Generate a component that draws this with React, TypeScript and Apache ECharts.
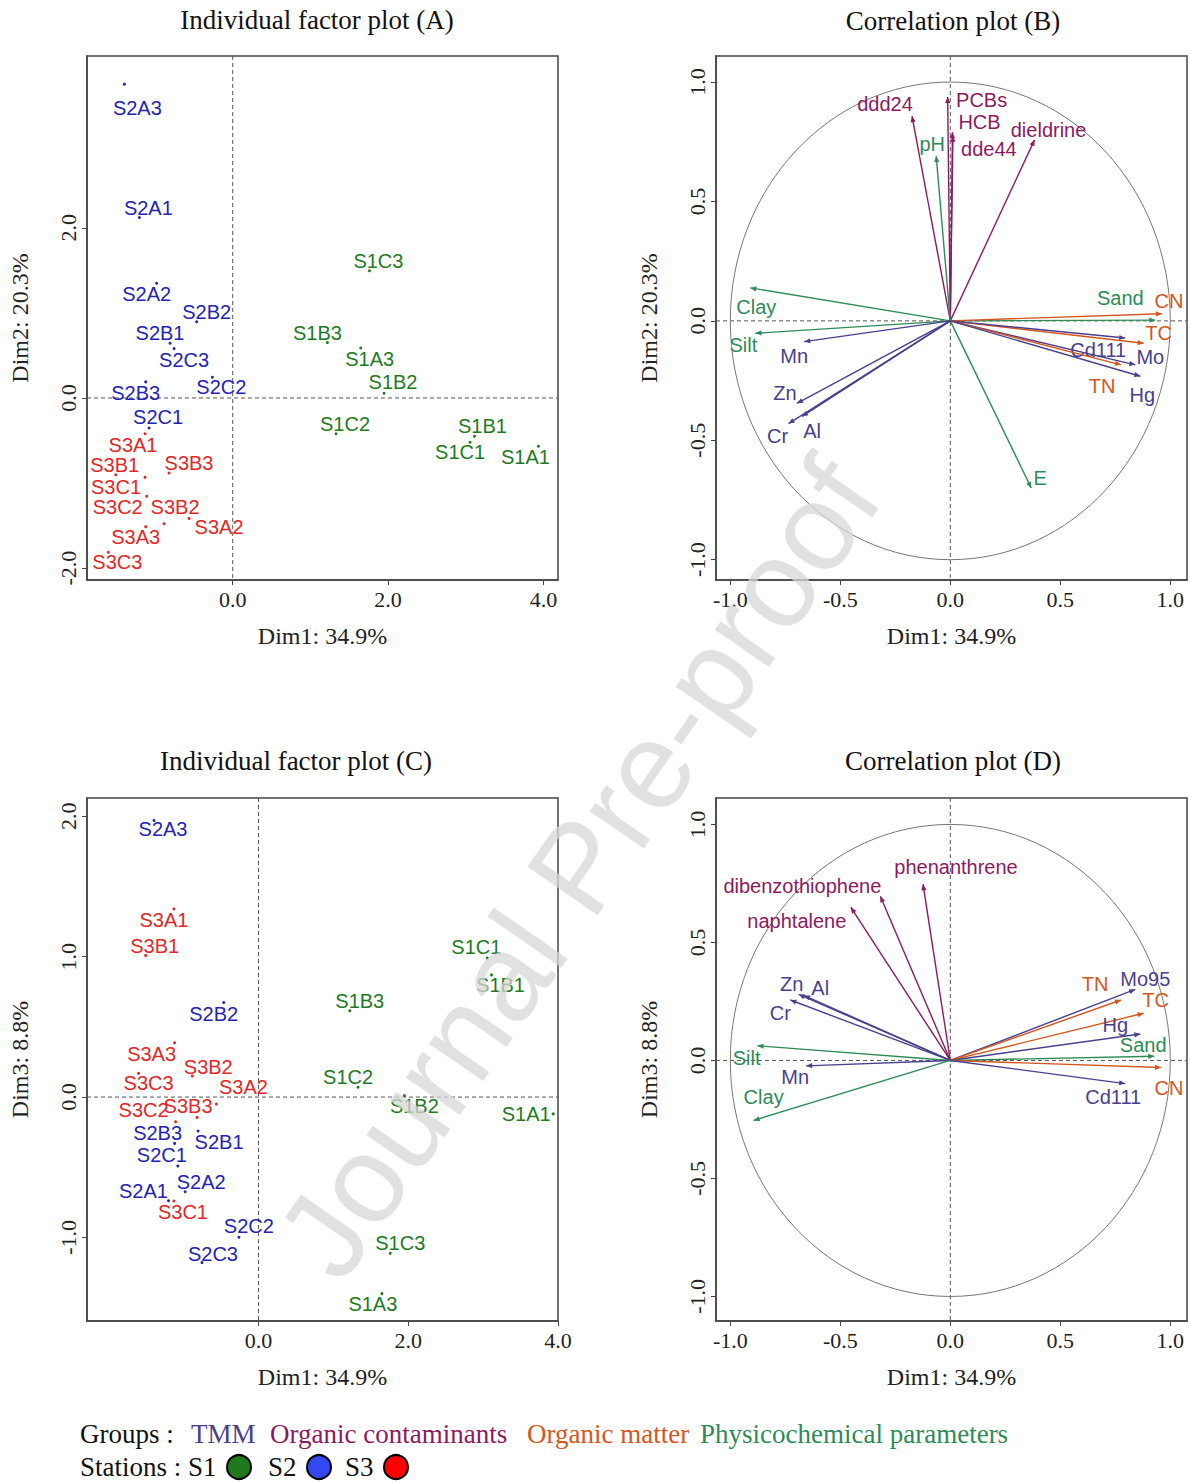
import React, { useEffect, useRef } from "react";
import * as echarts from "echarts";

// ---------- Data ----------
const individuals = [
  "S1A1", "S1A3", "S1B1", "S1B2", "S1B3", "S1C1", "S1C2", "S1C3",
  "S2A1", "S2A2", "S2A3", "S2B1", "S2B2", "S2B3", "S2C1", "S2C2", "S2C3",
  "S3A1", "S3A2", "S3A3", "S3B1", "S3B2", "S3B3", "S3C1", "S3C2", "S3C3",
];
const dim1 = [
  3.936, 1.648, 3.112, 1.948, 1.219, 3.056, 1.33, 1.76,
  -1.202, -0.979, -1.395, -0.807, -0.464, -1.12, -1.077, -0.262, -0.755,
  -1.129, -0.562, -1.12, -1.506, -0.884, -0.82, -1.129, -1.107, -1.601,
];
const dim2 = [
  -0.567, 0.588, -0.45, 0.055, 0.651, -0.521, -0.42, 1.496,
  2.122, 1.349, 3.689, 0.643, 0.895, 0.189, -0.353, 0.244, 0.58,
  -0.42, -1.416, -1.513, -0.903, -1.479, -0.882, -0.933, -1.155, -1.815,
];
const dim3 = [
  -0.12, -1.4, 0.87, 0.01, 0.615, 0.99, 0.07, -1.113,
  -0.738, -0.674, 1.97, -0.242, 0.673, -0.33, -0.491, -0.998, -1.179,
  1.34, -0.05, 0.387, 1.009, 0.15, -0.145, -0.74, -0.176, 0.169,
];

const varsB = ["PCBs", "HCB", "dde44", "ddd24", "dieldrine", "pH", "Clay", "Silt", "Mn", "Zn", "Cr", "Al", "E", "Sand", "CN", "TC", "Cd111", "Mo", "TN", "Hg"];
const varsBDim1 = [-0.012, 0.01, 0.012, -0.174, 0.383, -0.064, -0.909, -0.886, -0.664, -0.697, -0.735, -0.674, 0.368, 0.932, 0.962, 0.879, 0.795, 0.841, 0.776, 0.864];
const varsBDim2 = [0.937, 0.79, 0.775, 0.857, 0.758, 0.69, 0.138, -0.052, -0.087, -0.345, -0.43, -0.4, -0.7, 0.003, 0.03, -0.094, -0.072, -0.184, -0.184, -0.232];

const varsD = ["phenanthrene", "dibenzothiophene", "naphtalene", "Zn", "Al", "Cr", "Silt", "Mn", "Clay", "Mo95", "TN", "TC", "Hg", "Sand", "CN", "Cd111"];
const varsDDim1 = [-0.124, -0.318, -0.452, -0.689, -0.664, -0.727, -0.876, -0.655, -0.894, 0.841, 0.776, 0.879, 0.864, 0.927, 0.958, 0.795];
const varsDDim3 = [0.747, 0.696, 0.649, 0.28, 0.275, 0.256, 0.062, -0.023, -0.254, 0.301, 0.256, 0.2, 0.112, 0.018, -0.03, -0.098];

const groupNames = ["TMM", "Organic contaminants", "Organic matter", "Physicochemical parameters"];
const varGroup: Record<string, number> = {
  Mn: 0, Zn: 0, Cr: 0, Al: 0, Cd111: 0, Mo: 0, Mo95: 0, Hg: 0,
  PCBs: 1, HCB: 1, dde44: 1, ddd24: 1, dieldrine: 1, phenanthrene: 1, dibenzothiophene: 1, naphtalene: 1,
  CN: 2, TC: 2, TN: 2,
  Clay: 3, Silt: 3, Sand: 3, pH: 3, E: 3,
};
const stationNames = ["S1", "S2", "S3"];

const xTicksInd = [0, 2, 4];
const yTicksA = [-2, 0, 2];
const yTicksC = [-1, 0, 1, 2];
const ticksVar = [-1, -0.5, 0, 0.5, 1];

// ---------- Styles ----------
const SERIF = '"Liberation Serif", "Times New Roman", serif';
const SANS = '"Liberation Sans", Arial, sans-serif';
const groupColors = ["#4a3f8c", "#8b1a62", "#d2571e", "#2e8b57"];
const stationLabelColors: Record<string, string> = { S1: "#1f7a1f", S2: "#2424b0", S3: "#e02828" };
const stationFill = ["#1f7a1f", "#3348f0", "#ff0000"];

// label offsets (px) relative to their point / arrow tip
const offA: Record<string, number[]> = {
  S2A3: [13, 24], S2A1: [9, -9], S2A2: [-10, 11], S2B2: [10, -10], S2B1: [-10, -10], S2C3: [10, 11],
  S2B3: [-10, 11], S2C2: [9, 10], S2C1: [9, -11], S3A1: [-12, 11], S3B1: [-1, -10], S3B3: [20, -10],
  S3C1: [-29, 10], S3C2: [-29, 11], S3B2: [11, -17], S3A2: [30, 9], S3A3: [-10, 10], S3C3: [9, 10],
  S1C3: [9, -10], S1B3: [-10, -10], S1A3: [9, 11], S1B2: [9, -11], S1C2: [9, -10], S1B1: [8, -10],
  S1C1: [-10, 10], S1A1: [-13, 11],
};
const offC: Record<string, number[]> = {
  S3A3: [-23, 11], S3B2: [16, -9], S3C3: [10, 10], S3B3: [-9, -11], S3A2: [27, -17], S3C2: [-32, -12],
  S2B3: [-17, -10], S2B1: [21, 11], S2C1: [-16, -11], S2A2: [16, -10], S2A1: [-25, -10], S3C1: [9, 11],
  S3A1: [-10, 11], S3B1: [9, -9], S2A3: [9, 9], S2B2: [-10, 11], S2C2: [10, -11], S2C3: [11, -9],
  S1C3: [10, -10], S1A3: [-9, 10], S1B3: [10, -10], S1C2: [-10, -10], S1B2: [10, 10], S1C1: [-11, -11],
  S1B1: [9, 10], S1A1: [-27, 0],
};
const offB: Record<string, number[]> = {
  PCBs: [34, 3], HCB: [27, -10], dde44: [36, 13], ddd24: [-27, -12], dieldrine: [14, -10], pH: [-4, -12],
  Clay: [6, 19], Silt: [-12, 12], Mn: [-10, 14], Zn: [-12, -10], Cr: [-11, 12], Al: [10, 15], E: [9, -10],
  Sand: [-35, -22], CN: [7, -13], TC: [15, -10], Cd111: [-27, 12], Mo: [15, -8], TN: [-19, 21], Hg: [2, 19],
};
const offD: Record<string, number[]> = {
  phenanthrene: [33, -17], dibenzothiophene: [-78, -10], naphtalene: [-54, 14], Zn: [-7, -10], Al: [16, -8],
  Cr: [-10, 13], Silt: [-11, 12], Mn: [-11, 11], Clay: [10, -23], Mo95: [10, -10], TN: [-26, -16],
  TC: [12, -13], Hg: [-25, -9], Sand: [-11, -11], CN: [8, 20], Cd111: [-12, 13],
};

const grids = [
  { left: 87, top: 56, width: 471, height: 524 },
  { left: 716, top: 56, width: 471, height: 524 },
  { left: 87, top: 798, width: 471, height: 523 },
  { left: 716, top: 798, width: 471, height: 523 },
];

function xAxisCfg(gi: number, min: number, max: number, ticks: number[], name: string) {
  return {
    type: "value", gridIndex: gi, min, max,
    axisLine: { show: true, onZero: false, lineStyle: { color: "#444", width: 1.5 } },
    axisTick: { show: true, inside: false, length: 5, customValues: ticks, lineStyle: { color: "#444" } },
    axisLabel: { customValues: ticks, formatter: (v: number) => v.toFixed(1), fontFamily: SERIF, fontSize: 22, color: "#222", margin: 8 },
    splitLine: { show: false },
    name, nameLocation: "middle", nameGap: 44,
    nameTextStyle: { fontFamily: SERIF, fontSize: 24, color: "#222" },
  };
}
function yAxisCfg(gi: number, min: number, max: number, ticks: number[], name: string) {
  return {
    type: "value", gridIndex: gi, min, max,
    axisLine: { show: true, onZero: false, lineStyle: { color: "#444", width: 1.5 } },
    axisTick: { show: true, inside: false, length: 5, customValues: ticks, lineStyle: { color: "#444" } },
    axisLabel: { customValues: ticks, formatter: (v: number) => v.toFixed(1), fontFamily: SERIF, fontSize: 22, color: "#222", margin: 8, rotate: 90 },
    splitLine: { show: false },
    name, nameLocation: "middle", nameGap: 55, nameRotate: 90,
    nameTextStyle: { fontFamily: SERIF, fontSize: 24, color: "#222" },
  };
}

function refLines(gi: number) {
  return {
    type: "custom", coordinateSystem: "cartesian2d", xAxisIndex: gi, yAxisIndex: gi, silent: true, z: 1,
    data: [[0, 0]],
    renderItem: (params: any, api: any) => {
      const c = api.coord([0, 0]);
      const cs = params.coordSys;
      const st = { stroke: "#555", lineWidth: 1, lineDash: [4, 3] };
      return {
        type: "group",
        children: [
          { type: "line", shape: { x1: c[0], y1: cs.y, x2: c[0], y2: cs.y + cs.height }, style: st },
          { type: "line", shape: { x1: cs.x, y1: c[1], x2: cs.x + cs.width, y2: c[1] }, style: st },
        ],
      };
    },
  };
}

function unitCircle(gi: number) {
  return {
    type: "custom", coordinateSystem: "cartesian2d", xAxisIndex: gi, yAxisIndex: gi, silent: true, z: 1,
    data: [[0, 0]],
    renderItem: (_p: any, api: any) => {
      const c = api.coord([0, 0]);
      const s = api.size([1, 1]);
      return { type: "ellipse", shape: { cx: c[0], cy: c[1], rx: s[0], ry: s[1] }, style: { fill: "none", stroke: "#777", lineWidth: 1 } };
    },
  };
}

function individualsSeries(gi: number, ys: number[], offs: Record<string, number[]>) {
  return {
    type: "custom", coordinateSystem: "cartesian2d", xAxisIndex: gi, yAxisIndex: gi, z: 3,
    data: individuals.map((n, i) => [dim1[i], ys[i], i]),
    renderItem: (_p: any, api: any) => {
      const i = api.value(2);
      const name = individuals[i];
      const p = api.coord([api.value(0), api.value(1)]);
      const col = stationLabelColors[name.slice(0, 2)];
      const o = offs[name] || [9, -10];
      return {
        type: "group",
        children: [
          { type: "circle", shape: { cx: p[0], cy: p[1], r: 1.5 }, style: { fill: col } },
          {
            type: "text", x: p[0] + o[0], y: p[1] + o[1],
            style: { text: name, fill: col, fontSize: 20, fontFamily: SANS, align: "center", verticalAlign: "middle" },
          },
        ],
      };
    },
  };
}

function variablesSeries(gi: number, names: string[], xs: number[], ys: number[], offs: Record<string, number[]>) {
  return {
    type: "custom", coordinateSystem: "cartesian2d", xAxisIndex: gi, yAxisIndex: gi, z: 3,
    data: names.map((n, i) => [xs[i], ys[i], i]),
    renderItem: (_p: any, api: any) => {
      const i = api.value(2);
      const name = names[i];
      const o0 = api.coord([0, 0]);
      const t = api.coord([api.value(0), api.value(1)]);
      const col = groupColors[varGroup[name]];
      const a = Math.atan2(t[1] - o0[1], t[0] - o0[0]);
      const L = 6, W = 2.6;
      const bx = t[0] - L * Math.cos(a), by = t[1] - L * Math.sin(a);
      const nx = -Math.sin(a) * W, ny = Math.cos(a) * W;
      const off = offs[name] || [0, -10];
      return {
        type: "group",
        children: [
          { type: "line", shape: { x1: o0[0], y1: o0[1], x2: t[0], y2: t[1] }, style: { stroke: col, lineWidth: 1.4 } },
          { type: "polygon", shape: { points: [[t[0], t[1]], [bx + nx, by + ny], [bx - nx, by - ny]] }, style: { fill: col } },
          {
            type: "text", x: t[0] + off[0], y: t[1] + off[1],
            style: { text: name, fill: col, fontSize: 20, fontFamily: SANS, align: "center", verticalAlign: "middle" },
          },
        ],
      };
    },
  };
}

function txt(text: string, x: number, y: number, size: number, fill: string, align = "center") {
  return {
    type: "text", x, y, z: 10,
    style: { text, fill, fontSize: size, fontFamily: SERIF, align, verticalAlign: "middle" },
  };
}

export default function App() {
  const ref = useRef<HTMLDivElement>(null);
  useEffect(() => {
    if (!ref.current) return;
    const chart = echarts.init(ref.current, null, { renderer: "svg" });

    const graphic: any[] = [
      txt("Individual factor plot (A)", 317, 20, 27, "#111"),
      txt("Correlation plot (B)", 953, 21, 27, "#111"),
      txt("Individual factor plot (C)", 296, 761, 27, "#111"),
      txt("Correlation plot (D)", 953, 761, 27, "#111"),
      txt("Groups :", 80, 1434, 27, "#111", "left"),
      txt(groupNames[0], 191, 1434, 27, groupColors[0], "left"),
      txt(groupNames[1], 270, 1434, 27, groupColors[1], "left"),
      txt(groupNames[2], 527, 1434, 27, groupColors[2], "left"),
      txt(groupNames[3], 700, 1434, 27, groupColors[3], "left"),
      txt("Stations : " + stationNames[0], 80, 1467, 27, "#111", "left"),
      txt(stationNames[1], 268, 1467, 27, "#111", "left"),
      txt(stationNames[2], 345, 1467, 27, "#111", "left"),
      { type: "circle", z: 10, shape: { cx: 239, cy: 1467, r: 12 }, style: { fill: stationFill[0], stroke: "#000", lineWidth: 2 } },
      { type: "circle", z: 10, shape: { cx: 319, cy: 1467, r: 12 }, style: { fill: stationFill[1], stroke: "#000", lineWidth: 2 } },
      { type: "circle", z: 10, shape: { cx: 396, cy: 1467, r: 12 }, style: { fill: stationFill[2], stroke: "#000", lineWidth: 2 } },
      {
        type: "text", x: 578, y: 868, z: 100, rotation: 0.967, silent: true,
        style: { text: "Journal Pre-proof", fill: "rgba(215,215,215,0.75)", fontSize: 124, fontFamily: SANS, align: "center", verticalAlign: "middle" },
      },
    ];

    chart.setOption({
      animation: false,
      backgroundColor: "#ffffff",
      grid: grids.map((g) => ({ ...g, show: true, borderColor: "#444", borderWidth: 1.5, backgroundColor: "transparent", containLabel: false })),
      xAxis: [
        xAxisCfg(0, -1.876, 4.188, xTicksInd, "Dim1: 34.9%"),
        xAxisCfg(1, -1.065, 1.076, ticksVar, "Dim1: 34.9%"),
        xAxisCfg(2, -2.29, 4.0, xTicksInd, "Dim1: 34.9%"),
        xAxisCfg(3, -1.065, 1.076, ticksVar, "Dim1: 34.9%"),
      ],
      yAxis: [
        yAxisCfg(0, -2.14, 4.02, yTicksA, "Dim2: 20.3%"),
        yAxisCfg(1, -1.085, 1.109, ticksVar, "Dim2: 20.3%"),
        yAxisCfg(2, -1.595, 2.13, yTicksC, "Dim3: 8.8%"),
        yAxisCfg(3, -1.104, 1.112, ticksVar, "Dim3: 8.8%"),
      ],
      series: [
        refLines(0), refLines(1), refLines(2), refLines(3),
        unitCircle(1), unitCircle(3),
        individualsSeries(0, dim2, offA),
        individualsSeries(2, dim3, offC),
        variablesSeries(1, varsB, varsBDim1, varsBDim2, offB),
        variablesSeries(3, varsD, varsDDim1, varsDDim3, offD),
      ],
      graphic,
    });
    return () => chart.dispose();
  }, []);
  return (
    <div
      ref={ref}
      style={{ position: "absolute", left: 0, top: 0, width: 1190, height: 1483, background: "#fff" }}
    />
  );
}
